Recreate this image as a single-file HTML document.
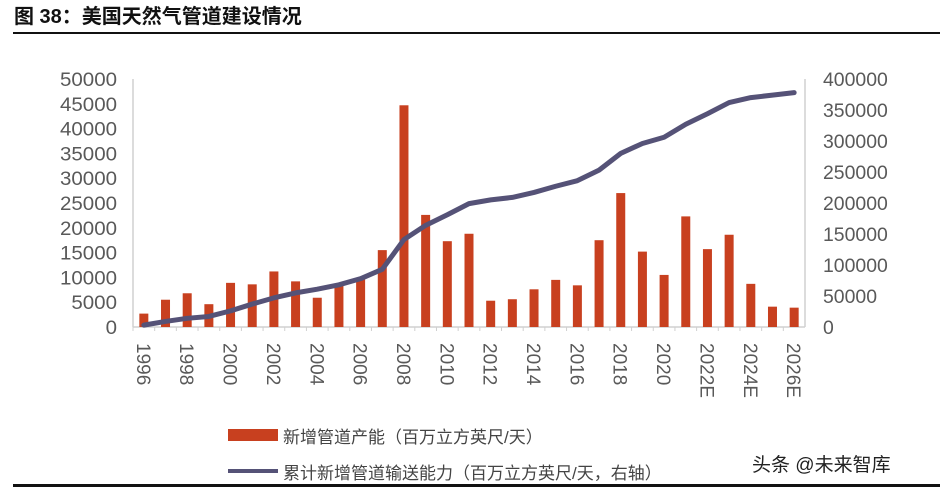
<!DOCTYPE html>
<html><head><meta charset="utf-8"><style>
body{margin:0;background:#fff;}
svg text{font-family:"Liberation Sans","Noto Sans CJK SC",sans-serif;}
</style></head><body>
<svg width="940" height="489" xmlns="http://www.w3.org/2000/svg">
<text x="14" y="23" font-size="20" font-weight="bold" fill="#111">图 38：美国天然气管道建设情况</text>
<rect x="13" y="32" width="927" height="2" fill="#111"/>
<rect x="13" y="484" width="927" height="3" fill="#111"/>
<g id="g"></g>
<rect x="228" y="429" width="50" height="12" fill="#c8401f"/>
<text x="283" y="443" font-size="17" fill="#444">新增管道产能（百万立方英尺/天）</text>
<rect x="228" y="469" width="50" height="4" fill="#555277"/>
<text x="283" y="479" font-size="17" fill="#444">累计新增管道输送能力（百万立方英尺/天，右轴）</text>
<text x="752" y="471" font-size="19" fill="#222">头条 @未来智库</text>
</svg>
<script>
const years=["1996","1997","1998","1999","2000","2001","2002","2003","2004","2005","2006","2007","2008","2009","2010","2011","2012","2013","2014","2015","2016","2017","2018","2019","2020","2021","2022E","2023","2024E","2025","2026E"];
const barValues=[2700,5500,6800,4600,8900,8600,11200,9200,5900,8300,9800,15500,44700,22600,17300,18800,5300,5600,7600,9500,8400,17500,27000,15200,10500,22300,15700,18600,8700,4100,3900];
const lineValues=[3000,9000,14000,17000,26000,37000,47000,55000,61000,68000,78000,93000,141000,164000,181000,199000,205000,209000,217000,227000,236000,253000,280000,296000,306000,327000,344000,362000,370000,374000,378000];
const leftTicks=[0,5000,10000,15000,20000,25000,30000,35000,40000,45000,50000];
const rightTicks=[0,50000,100000,150000,200000,250000,300000,350000,400000];
const xL=133,xR=805,yT=79,yB=327;
const step=(xR-xL)/years.length;
const xc=i=>xL+step*(i+0.5);
const yl=v=>yB-(v/50000)*(yB-yT);
const yr=v=>yB-(v/400000)*(yB-yT);
const g=document.getElementById('g');
const NS='http://www.w3.org/2000/svg';
function mk(t,a){const e=document.createElementNS(NS,t);for(const k in a)e.setAttribute(k,a[k]);g.appendChild(e);return e;}
let e=mk('line',{x1:xL,y1:yT,x2:xL,y2:yB,stroke:'#d0d0d0','stroke-width':1.5});


e=mk('line',{x1:xR,y1:yT,x2:xR,y2:yB,stroke:'#d0d0d0','stroke-width':1.5});


e=mk('line',{x1:xL,y1:yB,x2:xR,y2:yB,stroke:'#d0d0d0','stroke-width':1.5});


leftTicks.forEach(v=>{const t=mk('text',{x:xL-16,y:yl(v)+7,'font-size':19,fill:'#595959','text-anchor':'end',textLength:String(v).length*11.4,lengthAdjust:'spacingAndGlyphs'});t.textContent=v;

});
rightTicks.forEach(v=>{const t=mk('text',{x:xR+18,y:yr(v)+7,'font-size':19,fill:'#595959',textLength:String(v).length*10.8,lengthAdjust:'spacingAndGlyphs'});t.textContent=v;

});
years.forEach((y,i)=>{
 const tk=mk('line',{x1:xL+step*i,y1:yB,x2:xL+step*i,y2:yB+4,stroke:'#d0d0d0'});
 
 
 const b=mk('rect',{x:xc(i)-4.5,y:yl(barValues[i]),width:9,height:yB-yl(barValues[i]),fill:'#c8401f'});
 
 
 if(i%2===0){const t=mk('text',{x:0,y:0,'font-size':19,fill:'#595959',transform:`translate(${xc(i)-7},${yB+16}) rotate(90)`});t.textContent=y;
 
 }
});
const p=mk('polyline',{points:lineValues.map((v,i)=>xc(i)+','+yr(v)).join(' '),fill:'none',stroke:'#555277','stroke-width':5,'stroke-linejoin':'round','stroke-linecap':'round'});


</script>
</body></html>
